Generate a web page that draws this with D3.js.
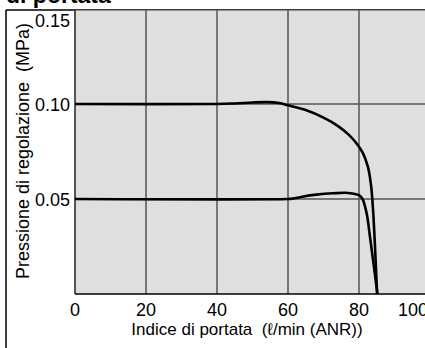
<!DOCTYPE html>
<html>
<head>
<meta charset="utf-8">
<script src="https://cdn.jsdelivr.net/npm/d3@7"></script>
<style>
  body { margin: 0; background: #fff; }
  svg { display: block; font-family: "Liberation Sans", Arial, sans-serif; }
</style>
</head>
<body>
<script>
"use strict";

// flow rate (l/min ANR) vs set pressure (MPa)
let flow1 = [0, 40, 45, 50, 54, 57.5, 60, 65, 70, 74, 77, 79, 81, 82.5, 83.4, 84, 85.1];
let pres1 = [0.100, 0.100, 0.1003, 0.1008, 0.101, 0.1005, 0.0993, 0.0968, 0.0928, 0.0885, 0.084, 0.080, 0.0745, 0.067, 0.057, 0.043, 0];
let flow2 = [0, 60, 61.3, 64, 68, 72.7, 77, 80, 81, 81.7, 82.3, 83.1, 85.2];
let pres2 = [0.050, 0.050, 0.0502, 0.0512, 0.0523, 0.053, 0.0532, 0.052, 0.050, 0.046, 0.041, 0.030, 0];
let xTicks = [0, 20, 40, 60, 80, 100];
let yTicks = [0.05, 0.10, 0.15];

let width = 425, height = 348;

let svg = d3.select("body").append("svg")
    .attr("width", width)
    .attr("height", height);

let x = d3.scaleLinear().domain([0, 100]).range([75, 430]);
let y = d3.scaleLinear().domain([0, 0.15]).range([294, 9]);

// title, mostly cut off at the top
svg.append("text")
    .attr("x", 6)
    .attr("y", 3)
    .attr("font-size", 23)
    .attr("font-weight", "bold")
    .text("di portata");

// outer frame
svg.append("line").attr("x1", 6).attr("x2", 6).attr("y1", 10).attr("y2", height)
    .attr("stroke", "#000").attr("stroke-width", 1.5);
svg.append("line").attr("x1", 6).attr("x2", width).attr("y1", 10).attr("y2", 10)
    .attr("stroke", "#000").attr("stroke-width", 1.5);

// plot area
svg.append("rect")
    .attr("x", x(0))
    .attr("y", 10.5)
    .attr("width", x(100) - x(0))
    .attr("height", y(0) - 10.5)
    .attr("fill", "#dfdfdf");

// grid
svg.selectAll("line.gx")
    .data(xTicks.filter(d => d > 0 && d < 100))
    .enter().append("line")
    .attr("x1", d => x(d)).attr("x2", d => x(d))
    .attr("y1", 10).attr("y2", y(0))
    .attr("stroke", "#555").attr("stroke-width", 1.5);

svg.selectAll("line.gy")
    .data(yTicks.filter(d => d < 0.15))
    .enter().append("line")
    .attr("x1", x(0)).attr("x2", width)
    .attr("y1", d => y(d)).attr("y2", d => y(d))
    .attr("stroke", "#555").attr("stroke-width", 1.5);

// axes lines
svg.append("line").attr("x1", x(0)).attr("x2", x(0)).attr("y1", 10).attr("y2", y(0))
    .attr("stroke", "#222").attr("stroke-width", 1.5);
svg.append("line").attr("x1", x(0)).attr("x2", width).attr("y1", y(0)).attr("y2", y(0))
    .attr("stroke", "#000").attr("stroke-width", 1.5);

// curves
let line = d3.line()
    .x(d => x(d[0]))
    .y(d => y(d[1]))
    .curve(d3.curveCatmullRom.alpha(0.5));

[[flow1, pres1], [flow2, pres2]].forEach(function (s) {
    svg.append("path")
        .datum(d3.zip(s[0], s[1]))
        .attr("d", line)
        .attr("fill", "none")
        .attr("stroke", "#000")
        .attr("stroke-width", 2.6);
});

// tick labels
svg.selectAll("text.xt")
    .data(xTicks)
    .enter().append("text")
    .attr("x", d => d === 100 ? x(d) - 17 : x(d))
    .attr("y", 316)
    .attr("text-anchor", "middle")
    .attr("font-size", 18)
    .text(d => d);

svg.selectAll("text.yt")
    .data(yTicks)
    .enter().append("text")
    .attr("x", 70)
    .attr("y", d => d === 0.15 ? 27 : y(d) + 6.5)
    .attr("text-anchor", "end")
    .attr("font-size", 18)
    .text(d => d.toFixed(2));

// axis titles
svg.append("text")
    .attr("x", 247)
    .attr("y", 335)
    .attr("text-anchor", "middle")
    .attr("font-size", 17)
    .attr("xml:space", "preserve")
    .text("Indice di portata  (\u2113/min (ANR))");

svg.append("text")
    .attr("transform", "translate(29,151) rotate(-90)")
    .attr("text-anchor", "middle")
    .attr("font-size", 18)
    .attr("xml:space", "preserve")
    .text("Pressione di regolazione  (MPa)");
</script>
</body>
</html>
